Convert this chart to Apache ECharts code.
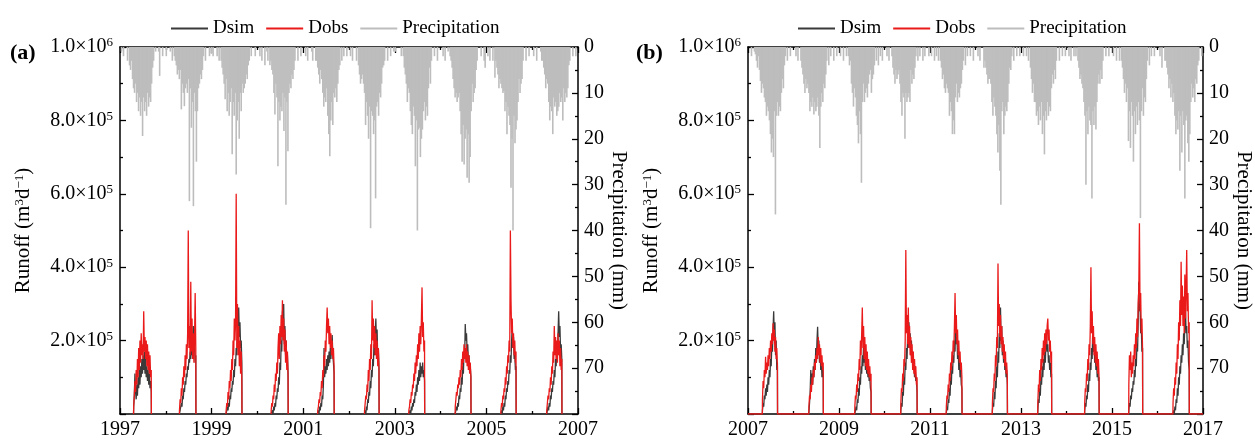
<!DOCTYPE html>
<html><head><meta charset="utf-8">
<script src="https://cdn.jsdelivr.net/npm/echarts@6/dist/echarts.min.js"></script>
<style>html,body{margin:0;padding:0;background:#fff}#c{width:1255px;height:441px}</style>
</head><body><div id="c"></div>
<script>
// ---------------- DATA ----------------
const rangeA = [1997, 2007];
const rangeB = [2007, 2017];
const seriesNames = ['Dsim', 'Dobs', 'Precipitation'];
// runoff: values in 1e4 m3/d, one value every RUNOFF_STEP days from the season start date
const RUNOFF_STEP = 5, RUNOFF_UNIT = 1e4;
// precipitation: mm, one value per PRECIP_STEP-day slot from Jan 1 of each year
const PRECIP_STEP = 8;

// ---- panel (a) 1997-2006 ----
const seasonStartA = ["1997-04-20","1998-04-20","1999-04-27","2000-04-20","2001-04-27","2002-05-05","2003-04-23","2004-04-27","2005-04-27","2006-04-27"];
const dobsA = [
 [2,5,9,6,12,8,15,10,18,12,20,14,22,16,19,15,28,17,21,15,20,13,19,12,17,11,16,10,12],
 [1,4,3,7,5,10,8,13,10,16,12,19,15,22,50,18,24,16,36,17,26,15,22,14,20,33,18],
 [1,3,2,6,4,9,7,12,9,15,12,20,16,26,20,25,60,18,30,16,24,13,20,11,17,9],
 [1,3,2,5,4,8,6,11,9,14,11,18,22,15,24,19,27,21,31,20,26,17,23,14,20,12,17,10],
 [1,2,4,3,6,5,9,7,12,10,16,13,20,17,24,29,22,26,19,24,18,22,16,20,15,18,13],
 [1,3,5,4,8,6,12,9,15,12,19,15,31,20,26,18,24,16,22,15,20,13,18,12],
 [1,2,4,3,6,5,8,7,11,9,14,11,16,13,19,15,22,17,24,19,26,34.5,21,25,17,20],
 [2,4,6,5,8,7,10,8,12,10,15,12,17,14,19,15,18,14,19,13,17,12,16,11,14,10],
 [1,3,2,5,4,7,6,10,8,13,11,16,14,20,17,50,31,22,26,18,22,16,20,14,17],
 [1,3,5,4,7,6,10,8,13,11,17,14,24,16,21,15,20,14,22,16,20,13,18,12,15]
];
const dsimA = [
 [2,5,11,6,4,8,5,10,7,12,8,13,10,15,11,16,12,17,11,15,10,13,9,12,8,11,7,9,6],
 [0,1,2,3,2,5,4,7,6,9,8,11,10,13,12,15,14,17,15,19,16,21,24,17,20,14,16],
 [0,1,2,1,3,2,5,4,7,6,9,8,12,10,15,13,18,16,22,19,29,21,25,18,20,14],
 [0,0,1,0,2,1,3,2,5,4,7,6,10,8,14,12,20,17,28,22,30,19,24,16,20,13,16,11],
 [0,1,0,2,1,3,2,5,4,8,18,10,13,11,15,12,16,13,17,14,18,15,19,21.5,16,14,11],
 [0,1,0,2,1,4,3,6,5,9,7,12,10,15,13,19,16,22,26,19,23,15,18,12],
 [0,0,1,0,2,1,3,2,4,3,6,5,8,6,10,8,12,9,14,10,13,11,14,10,12,9],
 [0,1,2,1,3,2,5,4,7,6,10,8,13,11,17,15,24.5,20,22,17,19,14,16,12,13,10],
 [0,1,0,2,1,3,2,5,4,7,6,9,8,12,11,16,14,20,24,18,21,15,17,12,13],
 [0,1,2,1,3,2,5,4,7,6,9,8,12,10,15,13,18,16,22,28,21,24,17,19,15]
];
const precipA = [
 [0,1,0,2,0,0,0,3,0,4,5,3,7,9,10,8,12,10,14,11,15,12,19.4,11,14,12,15,10,13,11,12,8,4.5,3,0,1,0,0,1,6.3,0,0,2,0,0,0],
 [2,0,0,0,1,0,3,0,2,3,4,6,5,7,5,13.6,8,10,12.9,9,8,10,7,33.6,9,17.6,12,34.7,10,14,25,14,9,8,6,7,5,2,0,3,0,0,0,2,0,1.5],
 [0,2,0,0,0,2,0,3,0,3,4.5,6,8,11.4,7,14,10,15,12,9,23.4,12,15,10,27.8,16,12,20,10,14,8,10,9,8,6,7,4,3,0,2,0,0,0,2,0,0],
 [0,0,2,0,3,0,0,4,0,1,3,0,4,3,5,6,10,14.7,8,11,26,12,16,13,14,10,18.3,11,34.4,12,22.7,10,8,9,6,7,5,3,0,0,3,0,0,2,0,0],
 [0,0,2,0,3,0,0,0,1,3,0,0,3,3,4.5,6,8,5,7,10,13,11,12,9,15,19,23.8,16,12,17,10,11,9,12,8,5,4,0,3,0,2,0,0,2,0,0],
 [0,2,0,3,0,0,0,3,0,4,6,8,7,6,8,10,17,12,15,20,13,39.5,14,15,19,16,33,13,12,15,10,11,8,4.5,4,3,0,0,3,0,0,2,0,0,1,0],
 [1,0,0,0,0,0,2,0,2,4.5,6,8,12,9,10,14,17,19,13,15,26,16,40,18,17.6,24,20,18,14,12,16,13,15,9,4.5,8,3,0,0,2,0,0,3,0,0,0],
 [0,0,2,0,3,0,0,1,0,2,3,4.5,7,9,11,10,12,11,10,14,19,25,17,25.6,20,18,28.5,19,29.6,24,14,8,12,10,9,5,3,0,0,0,2,0,0,3,4.5,0],
 [0,2,0,3,0,0,3,0,6.7,3,4.5,6,9,7,8,9,10,9.6,14,12,19,13,15,17,30.7,20,40,15,21,18,16,12,7,10,8,7,3,0,0,3,0,0,2,0,0,0],
 [0,2,0,0,3,0,0,0,1,3,3,4.5,6,9,7,8,12,16,13,14,19,11,13,12,15,14,13,10,12,11,16,9,12,10,11,9,4,3,0,0,2,0,0,2,0,0]
];

// ---- panel (b) 2007-2016 ----
const seasonStartB = ["2007-04-27","2008-05-04","2009-05-08","2010-05-12","2011-05-12","2012-05-16","2013-05-16","2014-05-27","2015-05-16","2016-05-05"];
const dobsB = [
 [4,9,7,12,10,15.6,11,14,12,16,13,18,15,20,17,22,19,24.7,20,23,17,21,15,18,13],
 [2,5,4,8,6,10,8,12,10,14,12,16,14,18,15,21,16,19,14,18,13,16,12,14],
 [2,5,4,8,6,11,9,15,12,20,16,22,29,18,24,15,21,13,19,12,17,11,15,10,13,9,11],
 [3,7,6,11,9,15,13,20,44.7,22,27,19,29,18,24,16,21,14,19,12,17,11,15,10,13,8,10],
 [2,5,4,8,6,11,9,14,12,17,14,20,17,24,33,22,27,19,23,16,20,14,17,12,14,10],
 [3,7,6,11,9,16,13,21,18,41,24,30,21,27,19,24,17,21,15,19,13,17,11,14,10],
 [3,8,6,12,9,15,12,18,14,20,16,22,17,23,19,24,26,20,23,17,20,14,17],
 [3,7,6,11,9,15,12,19,16,24,40,22,28,19,24,16,21,14,19,13,17,11,15,10],
 [8,16,12,17,10,14,11,16,13,19,15,22,18,26,21,30,34,52,28,33,22,26,18],
 [3,7,5,10,8,14,11,19,15,25,20,31,24,41.5,27,35,24,32,22,38,26,34,44.7,28,33,22,25]
];
const dsimB = [
 [1,3,2,5,4,7,5,8,6,10,8,12,10,15,13,19,17,23,28,21,25,16,20,12,14],
 [0,3,6,12,8,11,8,13,10,15,12,18,14,20,23.8,17,20,14,18,12,15,10,13,10],
 [0,1,2,1,4,3,7,5,10,8,13,11,16,13,19,14,17,12,15,11,14,10,12,9,10,7,6],
 [1,3,2,6,5,10,8,14,12,18,15,22,18,25,19,22,16,20,14,17,12,15,10,13,9,10,6],
 [0,2,1,4,3,7,5,10,8,13,11,16,14,20,17,26,19,22,15,18,12,15,10,12,8,7],
 [1,3,2,6,4,9,7,13,10,17,14,22,18,29,20,24,16,20,14,17,12,14,10,12,8],
 [1,4,3,7,5,10,8,13,10,15,12,17,14,19,21.5,17,19,14,16,12,14,10,11],
 [1,3,2,5,4,8,6,11,9,14,12,18,15,24,17,20,14,17,12,15,10,13,9,10],
 [1,3,2,5,4,7,6,9,8,12,10,15,13,19,17,25,36,28,30,22,24,17,18],
 [0,1,0,2,1,4,3,7,5,10,8,13,11,16,14,19,16,22,19,25,29,22,24,18,20,14,12]
];
const precipB = [
 [0,0,0,2,0,0,1,1.6,3,4.5,2,5,7.4,10,8,9,11,12,15,13,14,16,19,23,20,24,14,36.5,15,12,15,13,14,10,7,9,4,2,0,3,0,0,2,0,0,0],
 [0,0,2,0,3,0,0,3,4.5,6,8,10,7,9,8,10,14,12,13,11,14.7,12,14,13,11,15,22,13,10,12,8,9,6,3,0,4,0,2,0,0,3,0,0,2,0,0],
 [0,2,0,0,3,0,0,2,0,2,4,3,8,10,13,9,11,15,17,21,14,19,29.6,12,8,12,10,9,11,8,6,5,10,7,6,4,0,3,0,4,0,2,0,3,0,0],
 [0,0,2,0,3,0,0,2,4.5,6,8,5,7,6,5,8,12,15,10,11,20,10,12,11,10,12,5,8,6,7,4.5,2,0,3,0,2,0,0,3,0,2,0,0,0,2,0],
 [0,2,0,0,3,0,2,0,3,0,3,4.5,7,6,9,10,8,9,10,15,12,14,19,16,19,11,8,12,10,11,9,8,5,3,0,4,0,2,0,0,2,0,0,3,0,0],
 [0,0,2,0,3,0,0,0,4.5,3,4.5,6,8,7,7,8,12,15,11,13,15,19,23,17,27,34.4,14,12,19,15,13,14,12,8,4.5,5,2,0,3,0,0,2,0,0,2,0],
 [0,0,2,0,0,2,0,3,0,4.5,7,10,8,12,12,15,14,17,13,16,12,19,15,23.4,14,16,12,15,13,14,9,6,8,5,7,3,0,0,3,0,0,2,0,0,2,0],
 [0,0,2,0,3,0,0,2,0,2,0,3,4.5,7,6,8,9,12,15,30,14,19,13,16,17,33,14,17,13,18,12,8,6,8,5,7,3,0,0,2,0,0,2,0,0,0],
 [0,2,0,0,3,0,0,3,0,3,4.5,7,10,8,12,9,20.5,14,22,12,15,25,14,19,13,17,12,16,37.3,14,9,15,11,12,7,3,0,4,0,2,0,0,2,0,0,0],
 [0,0,2,0,4.5,0,0,3,3,4.5,6,9,7,11,8,12,10,15,19,16,18,14,27,15,23,14,17,33,16,15,21,25,19,12,8,11,9,12,7,8,4,3,0,0,2,0]
];

// ---------------- BUILD ----------------
const FONT = '"Liberation Serif","Times New Roman",serif';
const isLeap = y => (y % 4 === 0 && y % 100 !== 0) || y % 400 === 0;
const toDec = (y, doy) => y + doy / (isLeap(y) ? 366 : 365);
const doyOf = s => { const p = s.split('-').map(Number); return (Date.UTC(p[0], p[1] - 1, p[2]) - Date.UTC(p[0], 0, 1)) / 864e5; };

function runoffData(starts, vals, gaps, range) {
  const out = [];
  if (!gaps) out.push([range[0], 0]);
  starts.forEach((s, i) => {
    const y = +s.slice(0, 4), d0 = doyOf(s);
    out.push([toDec(y, d0 - 1), 0]);
    vals[i].forEach((v, k) => out.push([toDec(y, d0 + k * RUNOFF_STEP), v * RUNOFF_UNIT]));
    const dEnd = d0 + (vals[i].length - 1) * RUNOFF_STEP;
    out.push([toDec(y, dEnd + 1), 0]);
    if (gaps) out.push([toDec(y, dEnd + 2), null]);
  });
  if (!gaps) out.push([range[1], 0]);
  return out;
}
function precipData(vals, y0) {
  const out = [];
  vals.forEach((arr, i) => {
    const y = y0 + i;
    arr.forEach((v, k) => { if (v > 0) out.push([toDec(y, k * PRECIP_STEP + 4), v]); });
  });
  return out;
}

const axisLine = { show: true, onZero: false, lineStyle: { color: '#000', width: 1.5 } };
const tickIn = { show: true, inside: true, length: 6, lineStyle: { color: '#000', width: 1.3 } };
const minorIn = { show: true, splitNumber: 2, length: 3, lineStyle: { color: '#000', width: 1.3 } };

function xAxes(range, gi) {
  return [
    { type: 'value', gridIndex: gi, min: range[0], max: range[1], interval: 2, position: 'bottom',
      axisLine, axisTick: tickIn, minorTick: minorIn, splitLine: { show: false },
      axisLabel: { color: '#000', fontFamily: FONT, fontSize: 20, margin: 6, formatter: v => String(v) } },
    { type: 'value', gridIndex: gi, min: range[0], max: range[1], interval: 2, position: 'top',
      axisLine, axisTick: tickIn, minorTick: minorIn, splitLine: { show: false }, axisLabel: { show: false } }
  ];
}
function sciLabel(v) {
  if (v === 0) return '';
  const e = Math.floor(Math.log10(v) + 1e-9);
  const m = (v / Math.pow(10, e)).toFixed(1);
  return '{m|' + m + '×10}{e|' + e + '}';
}
function yAxes(gi) {
  return [
    { type: 'value', gridIndex: gi, min: 0, max: 1e6, interval: 2e5, position: 'left',
      axisLine, axisTick: tickIn, minorTick: minorIn, splitLine: { show: false },
      axisLabel: { margin: 7, formatter: sciLabel,
        rich: { m: { fontFamily: FONT, fontSize: 20, color: '#000' },
                e: { fontFamily: FONT, fontSize: 13, color: '#000', verticalAlign: 'top', padding: [0, 0, 8, 0] } } },
      name: '{t|Runoff (m}{s|3}{t|d}{s|−1}{t|)}', nameLocation: 'middle', nameGap: 86, nameRotate: 90,
      nameTextStyle: { rich: { t: { fontFamily: FONT, fontSize: 21, color: '#000' },
                               s: { fontFamily: FONT, fontSize: 13, color: '#000', verticalAlign: 'top', padding: [0, 0, 8, 0] } } } },
    { type: 'value', gridIndex: gi, min: 0, max: 80, interval: 10, inverse: true, position: 'right',
      axisLine, axisTick: tickIn, minorTick: minorIn, splitLine: { show: false },
      axisLabel: { margin: 6, color: '#000', fontFamily: FONT, fontSize: 20, formatter: v => (v === 80 ? '' : String(v)) },
      name: 'Precipitation (mm)', nameLocation: 'middle', nameGap: 30, nameRotate: -90,
      nameTextStyle: { fontFamily: FONT, fontSize: 21, color: '#000' } }
  ];
}
function panelSeries(xi, yi, starts, sim, obs, pre, y0, gaps, range) {
  return [
    { name: 'Precipitation', type: 'bar', xAxisIndex: xi, yAxisIndex: yi + 1, barWidth: 1.6,
      itemStyle: { color: '#bdbdbd' }, data: precipData(pre, y0), silent: true },
    { name: 'Dsim', type: 'line', xAxisIndex: xi, yAxisIndex: yi, showSymbol: false, symbol: 'none',
      lineStyle: { color: '#3a3a3a', width: 1.3 }, itemStyle: { color: '#3a3a3a' },
      data: runoffData(starts, sim, gaps, range), connectNulls: false },
    { name: 'Dobs', type: 'line', xAxisIndex: xi, yAxisIndex: yi, showSymbol: false, symbol: 'none',
      lineStyle: { color: '#ea1a1a', width: 1.3 }, itemStyle: { color: '#ea1a1a' },
      data: runoffData(starts, obs, gaps, range), connectNulls: false }
  ];
}
function legend(left) {
  return { left, top: 14, itemWidth: 37, itemHeight: 2, itemGap: 12, icon: 'rect',
    data: seriesNames, textStyle: { fontFamily: FONT, fontSize: 19, color: '#000' } };
}

const chart = echarts.init(document.getElementById('c'), null, { renderer: 'canvas' });
chart.setOption({
  animation: false,
  backgroundColor: '#fff',
  grid: [
    { left: 120, top: 47, width: 458, height: 367 },
    { left: 748, top: 47, width: 457, height: 367 }
  ],
  legend: [legend(166), legend(793)],
  xAxis: [...xAxes(rangeA, 0), ...xAxes(rangeB, 1)],
  yAxis: [...yAxes(0), ...yAxes(1)],
  graphic: [
    { type: 'text', left: 10, top: 42, style: { text: '(a)', font: 'bold 22px ' + FONT, fill: '#000' } },
    { type: 'text', left: 636, top: 42, style: { text: '(b)', font: 'bold 22px ' + FONT, fill: '#000' } }
  ],
  series: [
    ...panelSeries(0, 0, seasonStartA, dsimA, dobsA, precipA, rangeA[0], true, rangeA),
    ...panelSeries(2, 2, seasonStartB, dsimB, dobsB, precipB, rangeB[0], false, rangeB)
  ]
});
</script></body></html>
